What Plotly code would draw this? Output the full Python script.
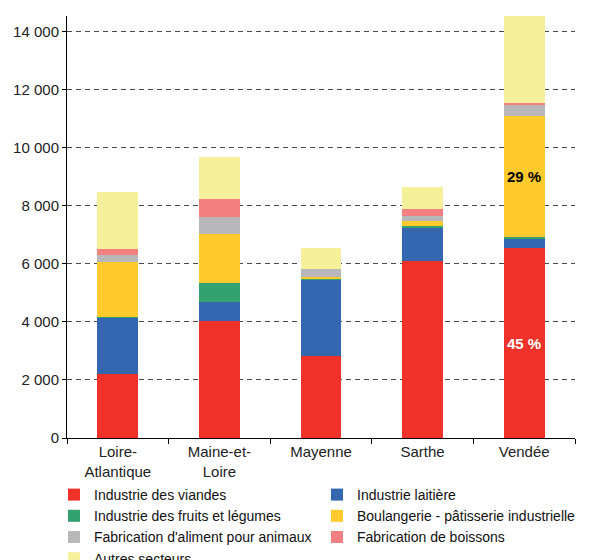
import plotly.graph_objects as go

departements = ["Loire-<br>Atlantique", "Maine-et-<br>Loire", "Mayenne", "Sarthe", "Vendée"]

series_names = [
    "Industrie des viandes",
    "Industrie laitière",
    "Industrie des fruits et légumes",
    "Boulangerie - pâtisserie industrielle",
    "Fabrication d'aliment pour animaux",
    "Fabrication de boissons",
    "Autres secteurs",
]

viandes = [2210, 4025, 2820, 6090, 6540]
laitiere = [1940, 650, 2626, 1135, 335]
fruits_legumes = [35, 655, 70, 70, 70]
boulangerie = [1870, 1720, 20, 170, 4165]
aliment_animaux = [240, 585, 300, 205, 380]
boissons = [210, 620, 0, 210, 70]
autres = [1960, 1445, 700, 790, 3025]

pct_labels_vendee = {"Industrie des viandes": "45 %", "Boulangerie - pâtisserie industrielle": "29 %"}

colors = ["#EE3229", "#3567B1", "#33A170", "#FFCA2C", "#B8B8BB", "#F28080", "#F5F09A"]

all_series = [viandes, laitiere, fruits_legumes, boulangerie, aliment_animaux, boissons, autres]

FONT = "Liberation Sans, Arial, sans-serif"

fig = go.Figure()
for name, vals, col in zip(series_names, all_series, colors):
    fig.add_trace(go.Bar(
        x=departements, y=vals, name=name,
        marker=dict(color=col, line=dict(width=0)),
    ))

# percentage labels for Vendée, placed at the middle of their segment
iv = 4
cum = 0
for name, vals in zip(series_names, all_series):
    if name in pct_labels_vendee:
        col = "white" if name == "Industrie des viandes" else "black"
        fig.add_annotation(x=departements[iv], y=cum + vals[iv] / 2,
                           text="<b>" + pct_labels_vendee[name] + "</b>",
                           showarrow=False, font=dict(color=col, size=15, family=FONT))
    cum += vals[iv]

# the page body adds an 8px offset, so margins are reduced by 8px on the left/top
fig.update_layout(
    barmode="stack",
    bargap=0.6,
    width=592, height=560,
    margin=dict(l=59, r=25, t=8, b=130, autoexpand=False),
    paper_bgcolor="white", plot_bgcolor="white",
    separators=", ",
    font=dict(family=FONT, size=15, color="#222"),
    legend=dict(
        orientation="h",
        x=-13 / 508, xanchor="left", y=-41 / 422, yanchor="top",
        entrywidth=218, entrywidthmode="pixels",
        font=dict(size=14, color="#111"), traceorder="normal",
        itemwidth=30, tracegroupgap=0, borderwidth=0,
        bgcolor="rgba(0,0,0,0)",
    ),
    xaxis=dict(
        showline=True, linecolor="black", linewidth=1,
        ticks="outside", tickson="boundaries", ticklen=5, tickcolor="black",
        showgrid=False, tickfont=dict(size=15, color="#222"),
    ),
    yaxis=dict(
        range=[0, 14550], tickvals=[0, 2000, 4000, 6000, 8000, 10000, 12000, 14000],
        tickformat=",d", showline=True, linecolor="black", linewidth=1,
        ticks="outside", ticklen=4, tickcolor="black",
        showgrid=True, gridcolor="#4a4a4a", griddash="5px,4px", gridwidth=1,
        zeroline=False, tickfont=dict(size=15, color="#222"),
    ),
)

fig.write_html("out.html")
